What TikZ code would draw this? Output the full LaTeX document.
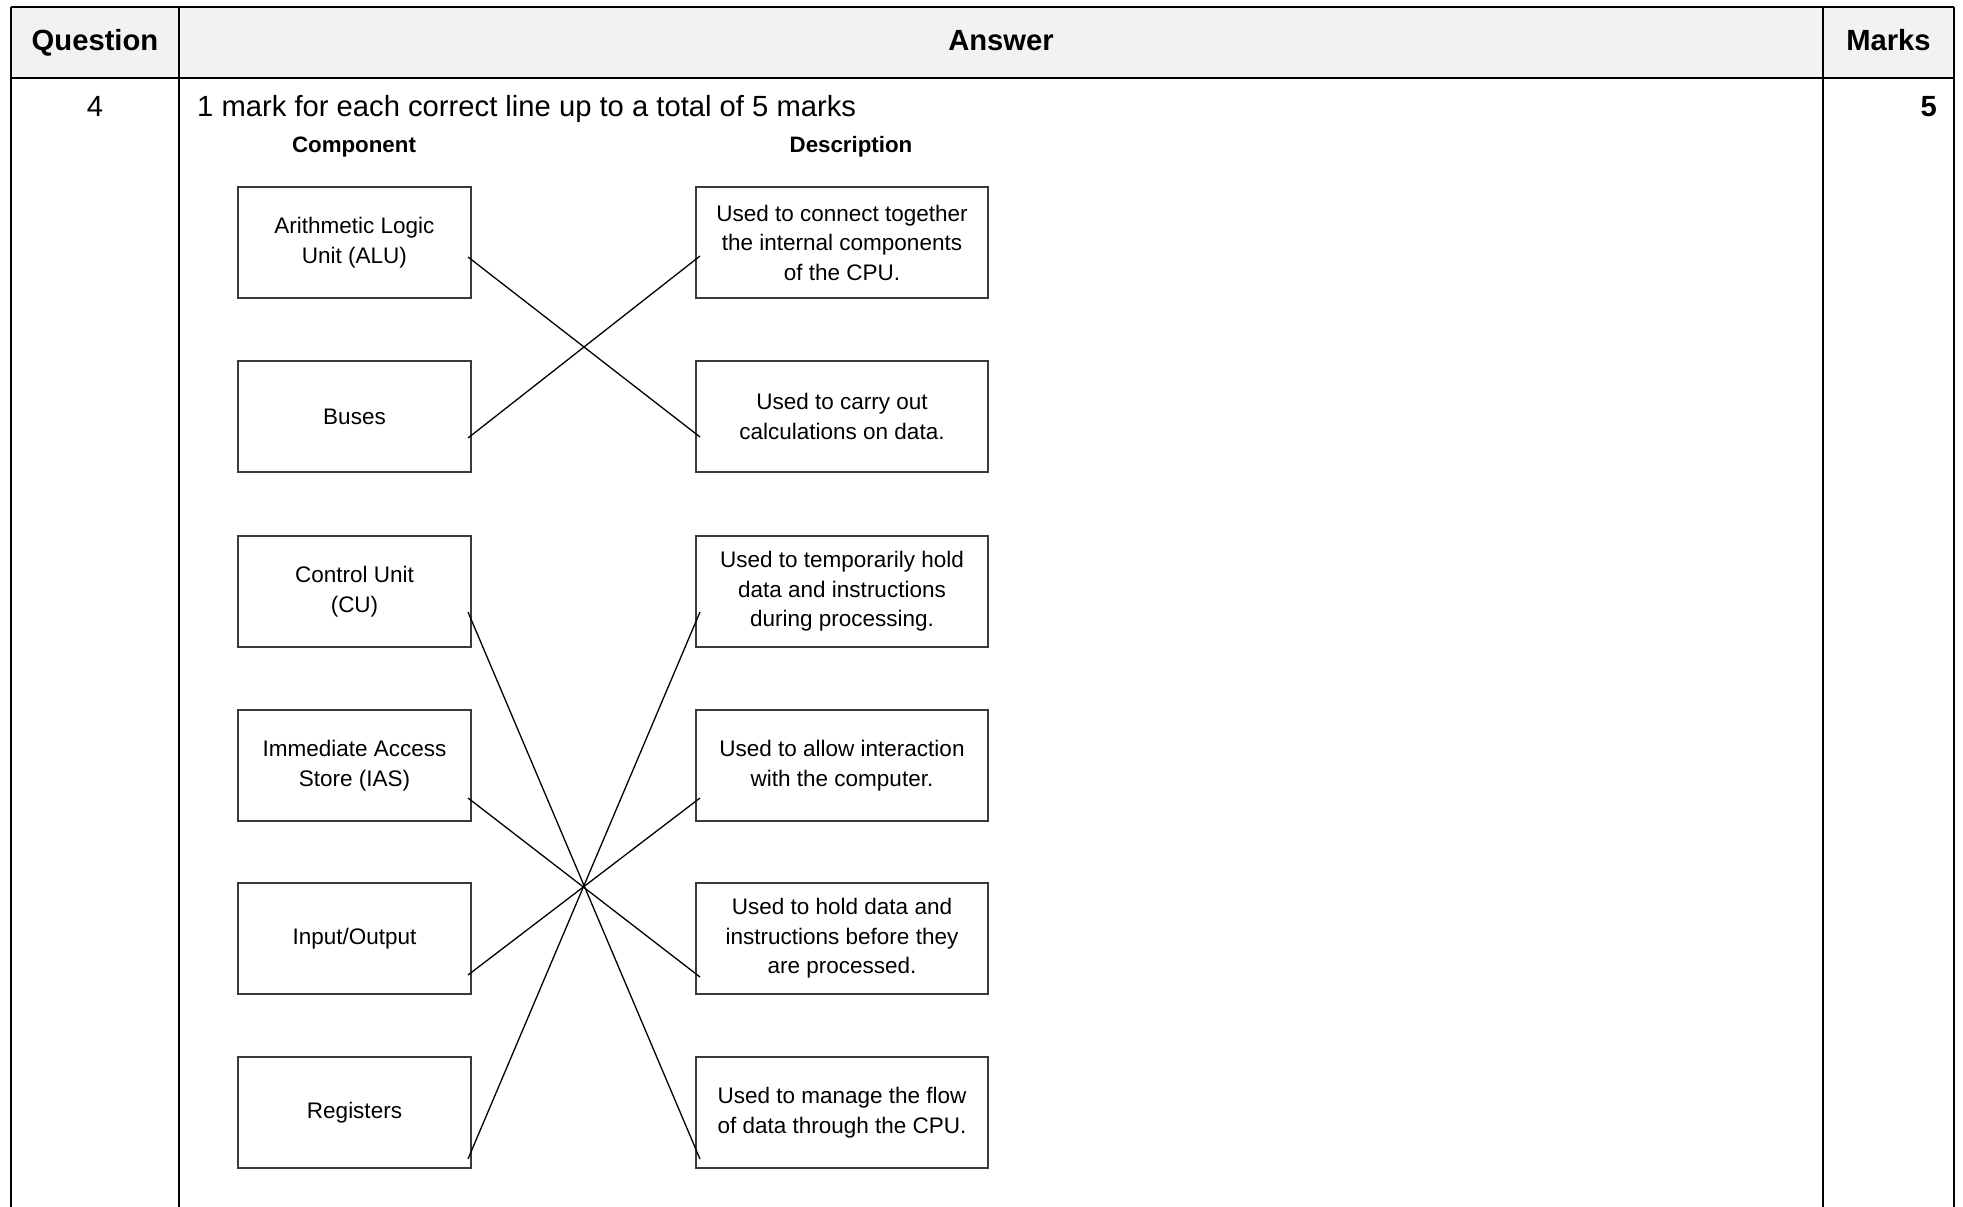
\documentclass[tikz,border=0pt]{standalone}
\usepackage{fontspec}
\setmainfont{Liberation Sans}
\usetikzlibrary{calc}
\definecolor{hdrgray}{HTML}{F2F2F2}
\definecolor{boxgray}{HTML}{3A3A3A}
\tikzset{
  tline/.style={line width=2pt, black},
  hdtext/.style={font=\fontsize{29.2}{35}\selectfont\bfseries, inner sep=0pt},
  rowtext/.style={font=\fontsize{29.2}{35}\selectfont, inner sep=0pt},
  subhead/.style={font=\fontsize{22.3}{27}\selectfont\bfseries, inner sep=0pt},
  lbox/.style={draw=boxgray, line width=2pt, minimum width=233pt, minimum height=111pt, inner sep=0pt, align=center, font=\fontsize{22.5}{29.5}\selectfont},
  rbox/.style={lbox, minimum width=292pt},
  link/.style={line width=1.3pt, black}
}
\begin{document}
\begin{tikzpicture}[x=1pt,y=-1pt]
\useasboundingbox (0,0) rectangle (1963,1207);
% table
\fill[hdrgray] (11,7) rectangle (1954,78);
\draw[tline] (11,7) -- (1954,7);
\draw[tline, line width=2.5pt] (11,78) -- (1954,78);
\draw[tline] (11,7) -- (11,1207);
\draw[tline] (179,7) -- (179,1207);
\draw[tline] (1823,7) -- (1823,1207);
\draw[tline] (1954,7) -- (1954,1207);
\node[hdtext, anchor=base] (hq) at (95,51) {Question};
\node[hdtext, anchor=base] (ha) at (1001,51) {Answer};
\node[hdtext, anchor=base] (hm) at (1888.5,51) {Marks};
\node[rowtext, anchor=base] (qn) at (95,116) {4};
\node[rowtext, anchor=base west] (instr) at (197,116) {1 mark for each correct line up to a total of 5 marks};
\node[hdtext, anchor=base east] (mk) at (1937,116) {5};
% column headings
\node[subhead, anchor=base] (comp) at (354,152) {Component};
\node[subhead, anchor=base] (desc) at (851,152) {Description};
% left boxes
\node[lbox] (alu) at (354.5,242.5) {Arithmetic Logic\\Unit (ALU)};
\node[lbox] (bus) at (354.5,416.5) {Buses};
\node[lbox] (cu) at (354.5,591.5) {Control Unit\\(CU)};
\node[lbox] (ias) at (354.5,765.5) {Immediate Access\\Store (IAS)};
\node[lbox] (io) at (354.5,938.5) {Input/Output};
\node[lbox] (reg) at (354.5,1112.5) {Registers};
% right boxes
\node[rbox] (connect) at (842,242.5) {Used to connect together\\the internal components\\of the CPU.};
\node[rbox] (calc) at (842,416.5) {Used to carry out\\calculations on data.};
\node[rbox] (temp) at (842,591.5) {Used to temporarily hold\\data and instructions\\during processing.};
\node[rbox] (allow) at (842,765.5) {Used to allow interaction\\with the computer.};
\node[rbox] (hold) at (842,938.5) {Used to hold data and\\instructions before they\\are processed.};
\node[rbox] (manage) at (842,1112.5) {Used to manage the flow\\of data through the CPU.};
% links
\draw[link] ($(alu.north east)+(-4,71)$) -- ($(calc.north west)+(5,77)$);
\draw[link] ($(bus.north east)+(-4,78)$) -- ($(connect.north west)+(5,70)$);
\draw[link] ($(cu.north east)+(-4,77)$) -- ($(manage.north west)+(5,103)$);
\draw[link] ($(ias.north east)+(-4,89)$) -- ($(hold.north west)+(5,95)$);
\draw[link] ($(io.north east)+(-4,93)$) -- ($(allow.north west)+(5,89)$);
\draw[link] ($(reg.north east)+(-4,103)$) -- ($(temp.north west)+(5,77)$);
\end{tikzpicture}
\end{document}
